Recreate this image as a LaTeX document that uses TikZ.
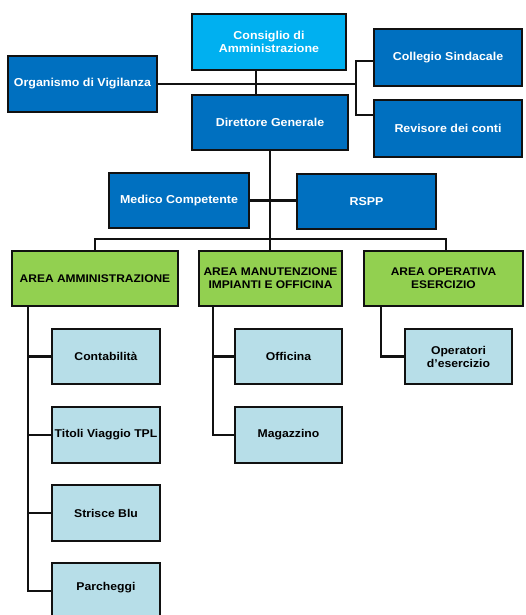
\documentclass[tikz,border=0pt]{standalone}
\usepackage{fontspec}
\setmainfont{Liberation Sans}[FakeStretch=1.08]
\definecolor{dblue}{HTML}{0070C0}
\definecolor{cblue}{HTML}{00B0F0}
\definecolor{agreen}{HTML}{92D050}
\definecolor{lblue}{HTML}{B7DEE8}
\definecolor{edge}{HTML}{111111}
\tikzset{
  box/.style={draw=edge, line width=2.2pt, inner sep=1pt, align=center,
    font=\fontsize{11.5}{13.5}\selectfont\bfseries},
  bluebox/.style={box, fill=dblue, text=white},
  topbox/.style={box, fill=cblue, text=white},
  areabox/.style={box, fill=agreen, text=black, font=\fontsize{11.1}{13}\selectfont\bfseries},
  subbox/.style={box, fill=lblue, text=black, font=\fontsize{11.3}{13}\selectfont\bfseries},
  link/.style={draw=edge, line width=2.2pt}
}
\begin{document}
\begin{tikzpicture}[x=1pt,y=-1pt]
\useasboundingbox (0,0) rectangle (525,615);
\clip (0,0) rectangle (525,615);
\fill[white] (0,0) rectangle (525,615);

% junction coordinates
\coordinate (bj) at (356,86);
\coordinate (bus) at (270,239);
\coordinate (v1) at (28,306);
\coordinate (v2) at (213,306);
\coordinate (v3) at (381,306);

% nodes
\node[topbox, minimum width=154pt, minimum height=56pt] (cda) at (269,42) {Consiglio di\\Amministrazione};
\node[bluebox, minimum width=149pt, minimum height=56pt] (odv) at (82.5,84) {Organismo di Vigilanza};
\node[bluebox, minimum width=148pt, minimum height=57pt] (col) at (448,57.5) {Collegio Sindacale};
\node[bluebox, minimum width=148pt, minimum height=57pt] (rev) at (448,128.5) {Revisore dei conti};
\node[bluebox, minimum width=156pt, minimum height=55pt] (dg) at (270,122.5) {Direttore Generale};
\node[bluebox, minimum width=140pt, minimum height=55pt] (mc) at (179,200.5) {Medico Competente};
\node[bluebox, minimum width=139pt, minimum height=55pt] (rspp) at (366.5,201.5) {RSPP};

\node[areabox, minimum width=166pt, minimum height=55pt] (a1) at (95,278.5) {AREA AMMINISTRAZIONE};
\node[areabox, minimum width=143pt, minimum height=55pt] (a2) at (270.5,278.5) {AREA MANUTENZIONE\\IMPIANTI E OFFICINA};
\node[areabox, minimum width=159pt, minimum height=55pt] (a3) at (443.5,278.5) {AREA OPERATIVA\\ESERCIZIO};

\node[subbox, minimum width=108pt, minimum height=55pt] (cont) at (106,356.5) {Contabilità};
\node[subbox, minimum width=108pt, minimum height=56pt, inner sep=0pt] (tit) at (106,435) {Titoli Viaggio TPL};
\node[subbox, minimum width=108pt, minimum height=56pt] (str) at (106,513) {Strisce Blu};
\node[subbox, minimum width=108pt, minimum height=56pt] (par) at (106,591) {\raisebox{9pt}{Parcheggi}};

\node[subbox, minimum width=107pt, minimum height=55pt] (off) at (288.5,356.5) {Officina};
\node[subbox, minimum width=107pt, minimum height=56pt] (mag) at (288.5,435) {Magazzino};

\node[subbox, minimum width=107pt, minimum height=55pt] (ope) at (458.5,356.5) {Operatori\\d’esercizio};

% top connectors
\draw[link] ([xshift=-13pt]cda.south) -- ([xshift=-13pt]cda.south |- dg.north);
\draw[link] (odv.east) -- (odv.east -| bj);
\draw[link] ([yshift=-3.5pt]col.west) -| (bj) |- ([yshift=13.5pt]rev.west);
\draw[link] (dg.south) -- (bus);
\draw[link] (mc.east) -- (mc.east -| rspp.west);
\draw[link] (a1.north) |- (bus) -| ([xshift=2.5pt]a3.north);
\draw[link] (bus) -- (bus |- a2.north);

% sub-area connectors
\draw[link] (a1.south -| v1) -- (v1 |- par.west) -- (par.west);
\draw[link] (cont.west -| v1) -- (cont.west);
\draw[link] (tit.west -| v1) -- (tit.west);
\draw[link] (str.west -| v1) -- (str.west);
\draw[link] (a2.south -| v2) -- (v2 |- mag.west) -- (mag.west);
\draw[link] (off.west -| v2) -- (off.west);
\draw[link] (a3.south -| v3) -- (v3 |- ope.west) -- (ope.west);
\end{tikzpicture}
\end{document}
